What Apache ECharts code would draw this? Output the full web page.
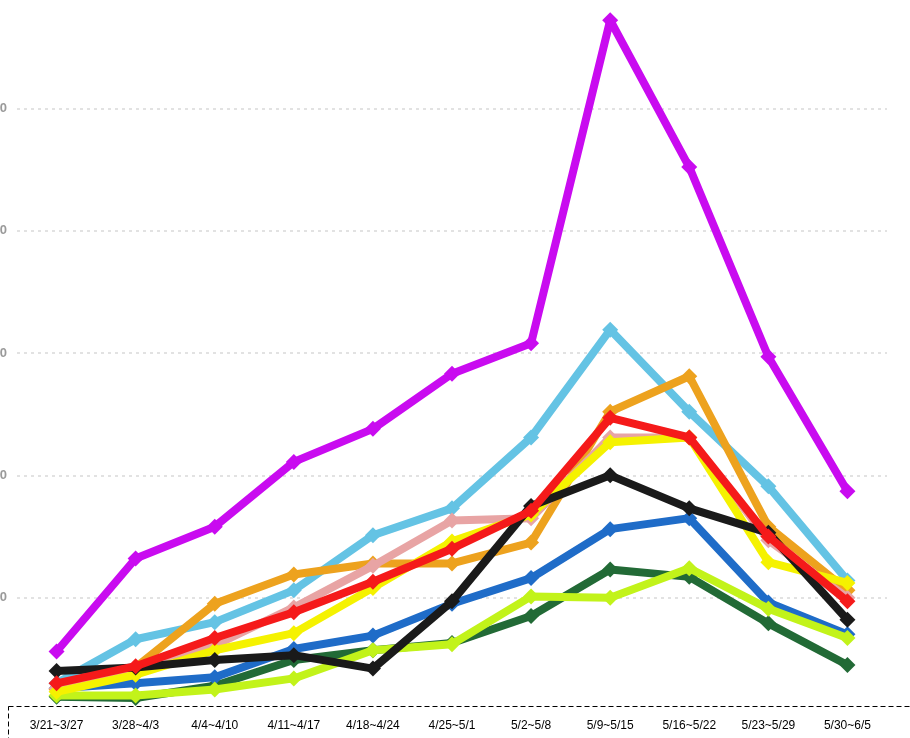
<!DOCTYPE html>
<html>
<head>
<meta charset="utf-8">
<script src="https://cdn.jsdelivr.net/npm/echarts@6/dist/echarts.min.js"></script>
<style>html,body{margin:0;padding:0;background:#fff;}#chart{width:910px;height:738px;}</style>
</head>
<body>
<div id="chart"></div>
<script>
const categories = ['3/21~3/27','3/28~4/3','4/4~4/10','4/11~4/17','4/18~4/24','4/25~5/1','5/2~5/8','5/9~5/15','5/16~5/22','5/23~5/29','5/30~6/5'];
const yTicks = [0, 100, 200, 300, 400, 500, 600];

const seriesDarkGreen = [19, 18, 28, 49, 57, 63, 85, 123, 117, 79, 45];
const seriesBlue      = [26, 30, 35, 58, 69, 95, 116, 156, 165, 96, 70];
const seriesLime      = [20, 20, 25, 34, 57, 62, 101, 100, 124, 91, 67];
const seriesLightBlue = [30, 66, 80, 106, 151, 173, 231, 319, 252, 191, 114];
const seriesOrange    = [25, 43, 95, 119, 128, 128, 145, 252, 281, 158, 106];
const seriesPink      = [26, 43, 61, 92, 126, 163, 165, 231, 231, 147, 100];
const seriesYellow    = [23, 37, 57, 71, 108, 146, 168, 227, 231, 129, 112];
const seriesBlack     = [40, 43, 49, 53, 42, 97, 175, 200, 173, 153, 82];
const seriesRed       = [30, 44, 67, 88, 113, 140, 171, 247, 231, 150, 97];
const seriesPurple    = [56, 132, 158, 211, 238, 283, 308, 572, 452, 297, 187];

const palette = [
  ['seriesDarkGreen', seriesDarkGreen, '#226a36'],
  ['seriesBlue', seriesBlue, '#1f6cc8'],
  ['seriesLime', seriesLime, '#c2f31a'],
  ['seriesLightBlue', seriesLightBlue, '#64c3e4'],
  ['seriesOrange', seriesOrange, '#eda21e'],
  ['seriesPink', seriesPink, '#e8a4a4'],
  ['seriesYellow', seriesYellow, '#f5f200'],
  ['seriesBlack', seriesBlack, '#1a1a1a'],
  ['seriesRed', seriesRed, '#f51a1a'],
  ['seriesPurple', seriesPurple, '#c90bf0']
];

const chart = echarts.init(document.getElementById('chart'));
chart.setOption({
  animation: false,
  backgroundColor: '#fff',
  grid: { left: 17, right: 23, top: -14, bottom: 18, containLabel: false, outerBoundsMode: 'none' },
  xAxis: {
    type: 'category',
    data: categories,
    z: 5,
    boundaryGap: true,
    axisLine: { show: false },
    axisTick: { show: false },
    splitLine: { show: false },
    axisLabel: { margin: 0, fontSize: 12, color: '#000', fontFamily: 'Liberation Sans, Arial, sans-serif', interval: 0 }
  },
  yAxis: {
    type: 'value',
    min: yTicks[0],
    max: yTicks[yTicks.length - 1],
    interval: 100,
    z: 0,
    axisLine: { show: false },
    axisTick: { show: false },
    axisLabel: { show: true, showMinLabel: false, showMaxLabel: false, margin: 10, fontSize: 13, fontWeight: 'bold', color: '#9a9a9a', fontFamily: 'Liberation Sans, Arial, sans-serif' },
    splitLine: { show: true, lineStyle: { color: '#e2e2e2', type: [3, 4], width: 2 } }
  },
  graphic: [{
    type: 'rect',
    z: 1,
    shape: { x: 8.5, y: 706.5, width: 910, height: 60 },
    style: { fill: '#fff', stroke: '#000', lineWidth: 1, lineDash: [5, 3] }
  }],
  series: palette.map(([name, data, color], i) => ({
    name: name,
    type: 'line',
    data: data,
    z: 2 + i,
    symbol: 'diamond',
    symbolSize: 16,
    showSymbol: true,
    lineStyle: { width: 8, color: color },
    itemStyle: { color: color }
  }))
});
</script>
</body>
</html>
